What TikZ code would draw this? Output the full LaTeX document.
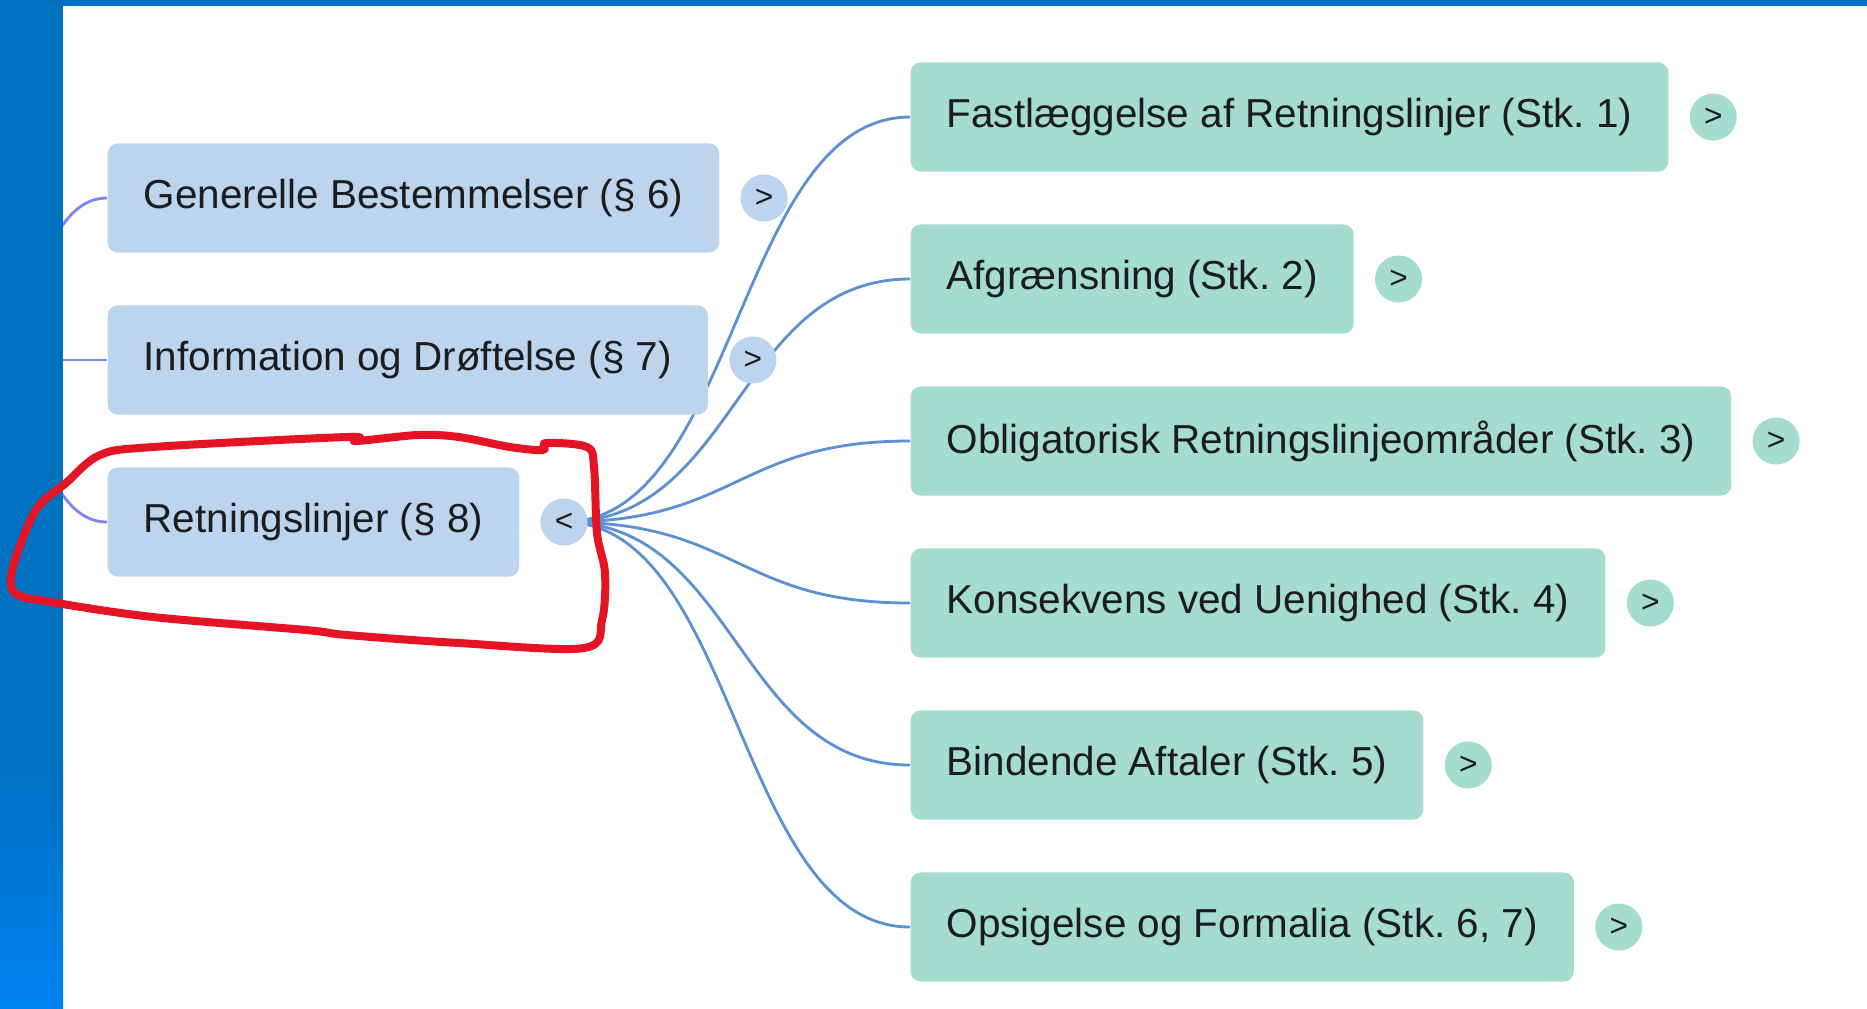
\documentclass[tikz,border=0pt]{standalone}
\usepackage{fontspec}
\setmainfont{Liberation Sans}
\usepackage{xcolor}
\usepackage{tikz}
\usetikzlibrary{positioning,calc}
\frenchspacing
\definecolor{barblue}{RGB}{0,112,192}
\definecolor{barlight}{RGB}{0,130,240}
\definecolor{sectionblue}{RGB}{188,212,238}
\definecolor{stkgreen}{RGB}{164,220,208}
\definecolor{linkblue}{RGB}{92,144,208}
\definecolor{stubblue}{RGB}{125,130,245}
\definecolor{markred}{RGB}{228,20,36}
\definecolor{textdark}{RGB}{28,28,30}
\pgfdeclarelayer{bg}
\pgfdeclarelayer{links}
\pgfsetlayers{bg,links,main}
\tikzset{
  topic/.style={rectangle, rounded corners=0.1cm, inner xsep=0.36cm, inner ysep=0pt,
    minimum height=1.09cm, anchor=west, text=textdark,
    font=\fontsize{11.5pt}{13pt}\selectfont},
  section/.style={topic, fill=sectionblue},
  stk/.style={topic, fill=stkgreen},
  toggle/.style={circle, inner sep=0pt, minimum size=0.47cm, text=textdark,
    font=\fontsize{9pt}{10pt}\selectfont},
  link/.style={draw=#1, line width=0.8pt,
    to path={let \p1=(\tikztostart), \p2=(\tikztotarget) in
      .. controls (0.5*\x1+0.5*\x2,\y1) and (0.5*\x1+0.5*\x2,\y2) .. (\tikztotarget)}},
  link/.default=linkblue
}

\begin{document}
\begin{tikzpicture}[x=0.01cm, y=-0.01cm]
\useasboundingbox (0,0) rectangle (1867,1008);
\begin{pgfonlayer}{bg}
\fill[white] (0,0) rectangle (1867,1008);
\end{pgfonlayer}

% sections of the agreement
\node[section] (sec6) at (107,198) {Generelle Bestemmelser (§ 6)};
\node[section] (sec7) at (107,360) {Information og Drøftelse (§ 7)};
\node[section] (sec8) at (107,522) {Retningslinjer (§ 8)};
\node[toggle, fill=sectionblue, right=0.2cm of sec6] (sec6t) {>};
\node[toggle, fill=sectionblue, right=0.2cm of sec7] (sec7t) {>};
\node[toggle, fill=sectionblue, right=0.2cm of sec8] (sec8t) {<};

% paragraphs of § 8
\node[stk] (stk1) at (910,117) {Fastlæggelse af Retningslinjer (Stk. 1)};
\node[stk] (stk2) at (910,279) {Afgrænsning (Stk. 2)};
\node[stk] (stk3) at (910,441) {Obligatorisk Retningslinjeområder (Stk. 3)};
\node[stk] (stk4) at (910,603) {Konsekvens ved Uenighed (Stk. 4)};
\node[stk] (stk5) at (910,765) {Bindende Aftaler (Stk. 5)};
\node[stk] (stk6) at (910,927) {Opsigelse og Formalia (Stk. 6, 7)};
\node[toggle, fill=stkgreen, right=0.2cm of stk1] (stk1t) {>};
\node[toggle, fill=stkgreen, right=0.2cm of stk2] (stk2t) {>};
\node[toggle, fill=stkgreen, right=0.2cm of stk3] (stk3t) {>};
\node[toggle, fill=stkgreen, right=0.2cm of stk4] (stk4t) {>};
\node[toggle, fill=stkgreen, right=0.2cm of stk5] (stk5t) {>};
\node[toggle, fill=stkgreen, right=0.2cm of stk6] (stk6t) {>};

% parent sits under the side bar
\coordinate (lovroot) at (-38,360);

\begin{pgfonlayer}{links}
\draw[link=stubblue] (lovroot) to (sec6.west);
\draw[link=stubblue] (lovroot) to (sec7.west);
\draw[link=stubblue] (lovroot) to (sec8.west);
\draw[link] (sec8t.center) to (stk1.west);
\draw[link] (sec8t.center) to (stk2.west);
\draw[link] (sec8t.center) to (stk3.west);
\draw[link] (sec8t.center) to (stk4.west);
\draw[link] (sec8t.center) to (stk5.west);
\draw[link] (sec8t.center) to (stk6.west);
\end{pgfonlayer}

% window frame
\fill[barblue] (0,0) rectangle (63,760);
\shade[top color=barblue, bottom color=barlight] (0,760) rectangle (63,1008);
\fill[barblue] (0,0) rectangle (1867,6);

% hand drawn mark
\draw[markred, line width=0.08cm, line join=round]
  plot[smooth cycle, tension=0.55] coordinates {
    (100,455) (153,447) (347,437) (356,441) (418,435) (459,437)
    (510,447) (543,450) (546,443) (587,447) (594,467) (597,533)
    (605,573) (602,620) (584,648) (459,643) (347,635) (306,630)
    (153,617) (51,602) (15,593) (13,567) (36,510) (66,483)};
\end{tikzpicture}
\end{document}
